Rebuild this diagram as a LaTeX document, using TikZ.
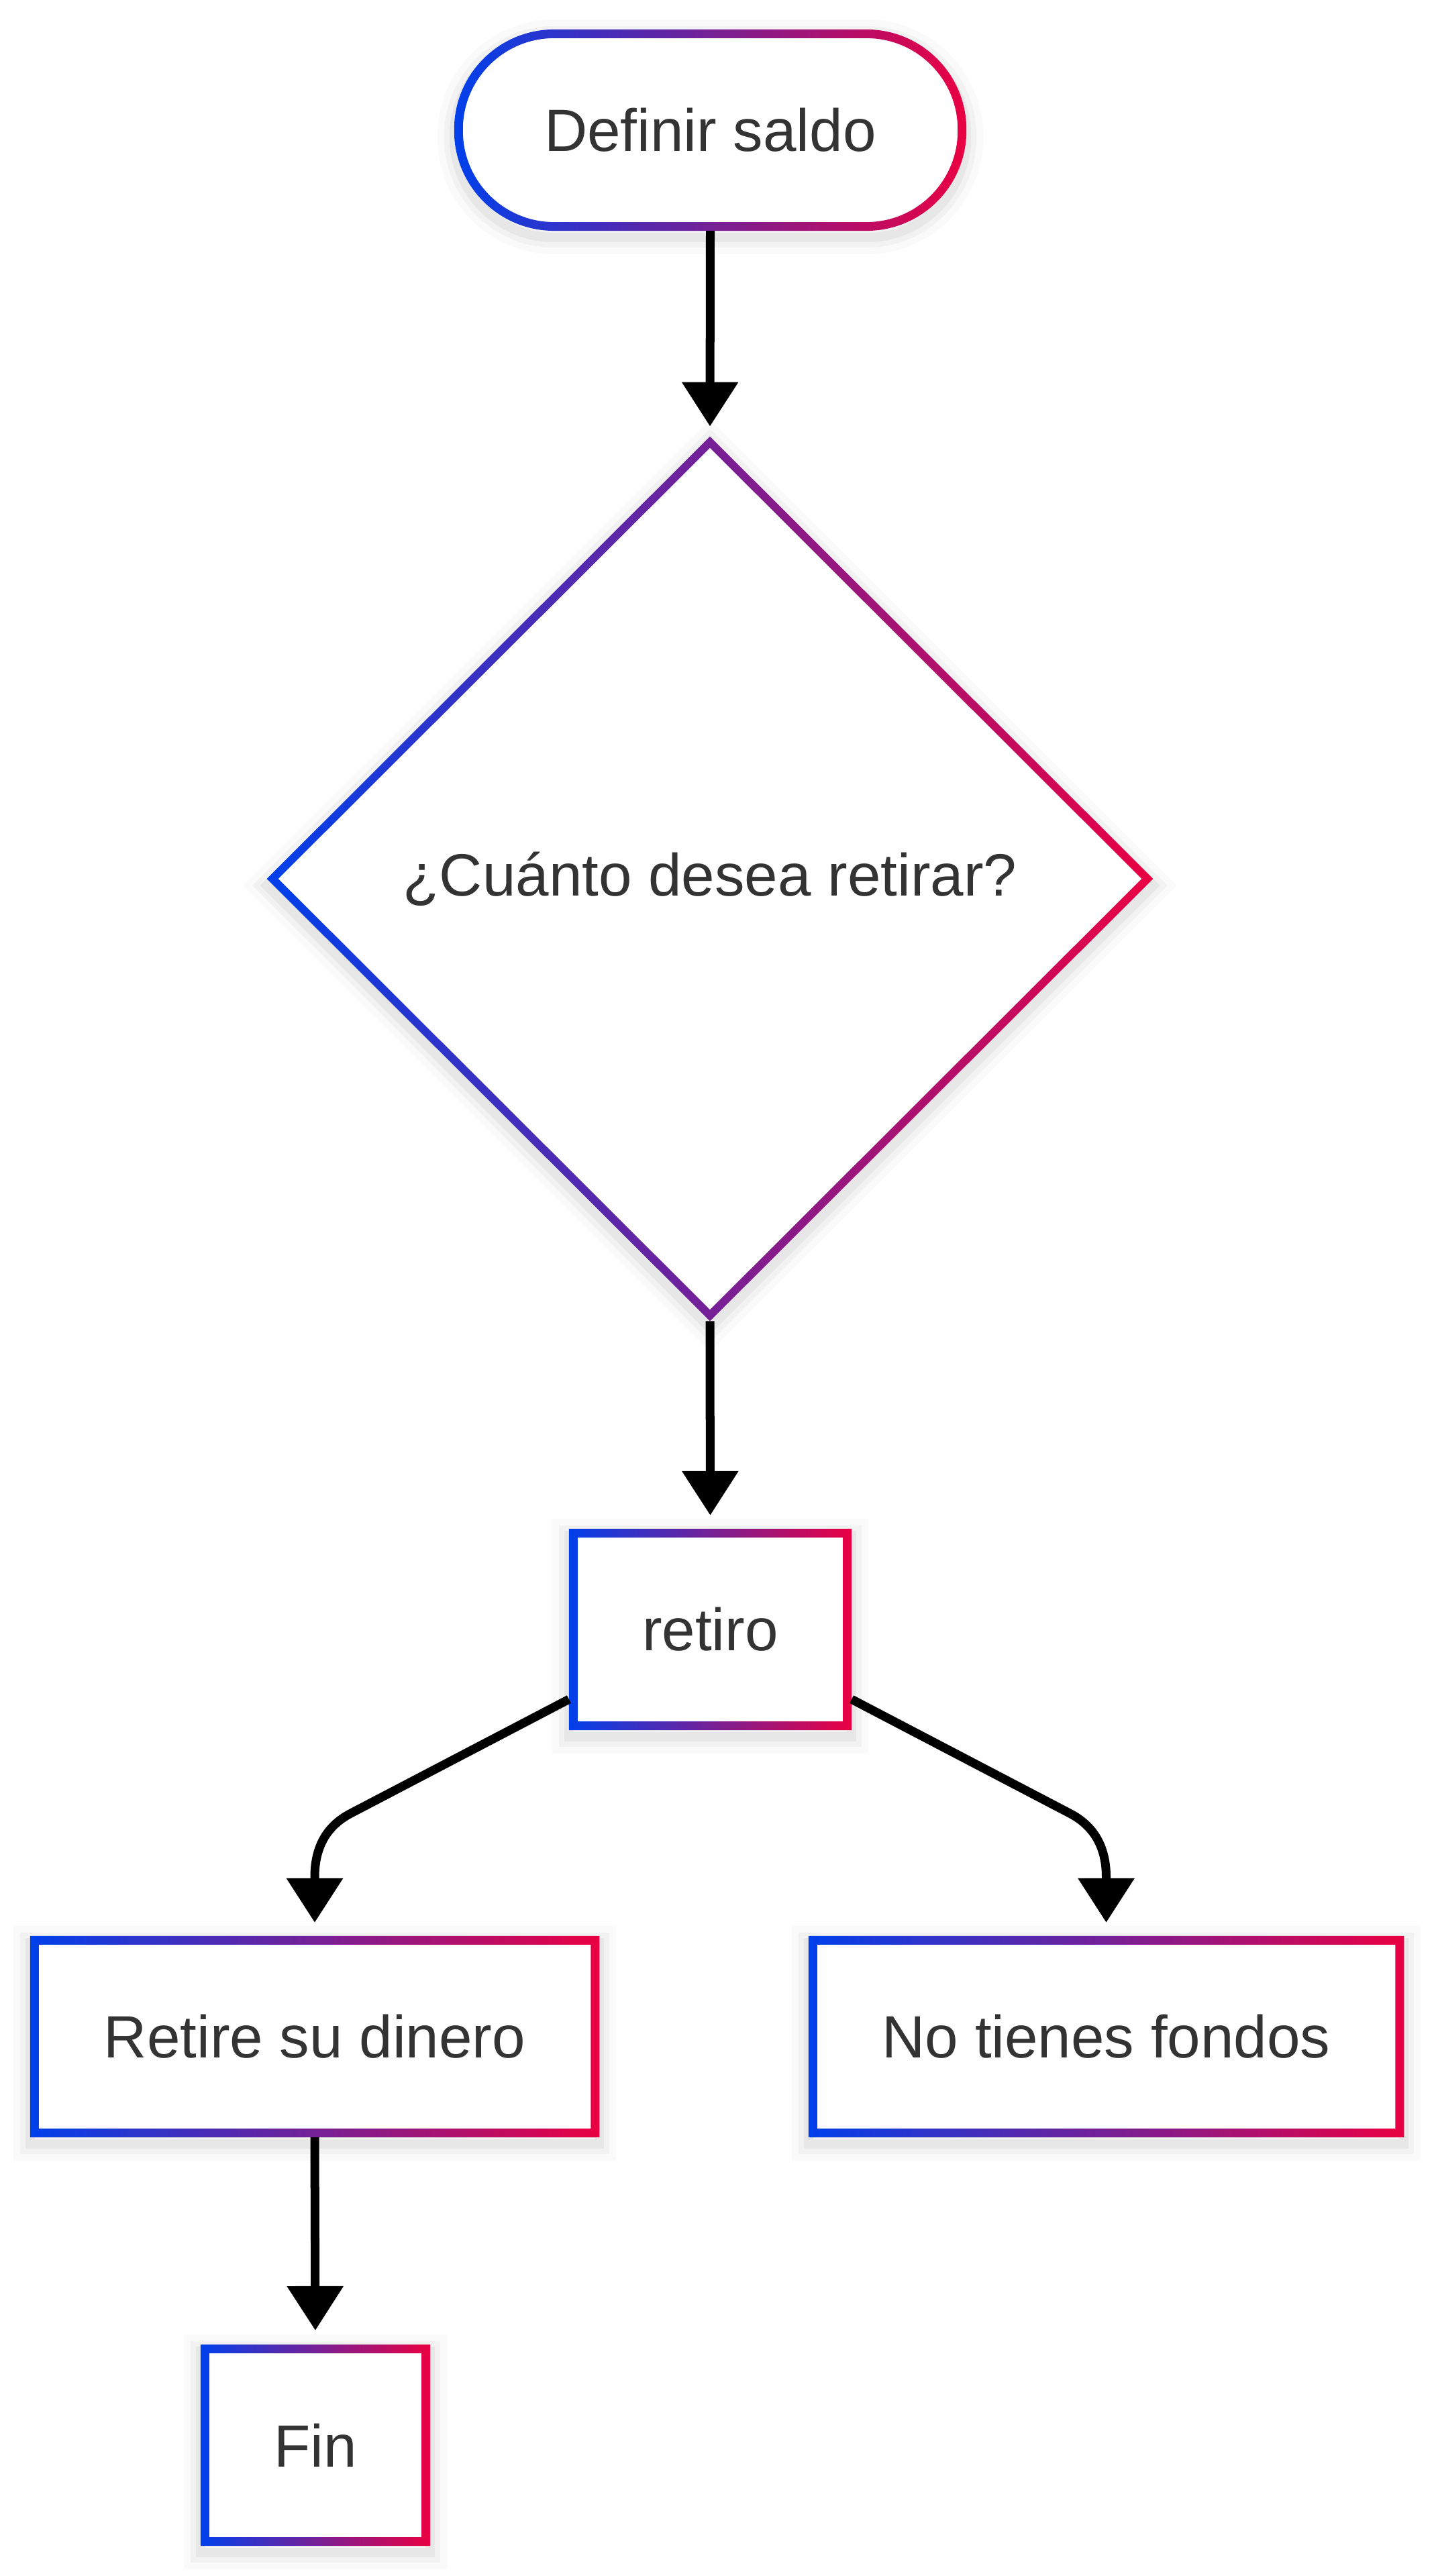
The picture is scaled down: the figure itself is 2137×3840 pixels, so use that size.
\documentclass[tikz,border=0pt]{standalone}
\usepackage{fontspec}
\setmainfont{Liberation Sans}
\usetikzlibrary{arrows.meta,backgrounds}
\definecolor{gblue}{RGB}{0,64,235}
\definecolor{gred}{RGB}{234,0,66}
\definecolor{txtc}{RGB}{51,51,51}
\tikzset{
  box/.style={rectangle, inner sep=0pt, outer sep=0pt, text=txtc, font=\fontsize{25.3}{30}\selectfont},
  arr/.style={draw=black, line width=0.13cm, -{Triangle[length=0.66cm,width=0.81cm]}},
  ring/.style={left color=gblue, right color=gred, even odd rule},
  shadowline/.style={draw=black, line join=miter, transform canvas={yshift=-0.1cm}},
}
\newcommand{\rectdeco}[1]{%
  \begin{scope}[on background layer]
    \draw[shadowline, opacity=0.02, line width=0.5cm] (#1.south west) rectangle (#1.north east);
    \draw[shadowline, opacity=0.03, line width=0.3cm] (#1.south west) rectangle (#1.north east);
    \draw[shadowline, opacity=0.045, line width=0.14cm] (#1.south west) rectangle (#1.north east);
    \fill[white] (#1.south west) rectangle (#1.north east);
  \end{scope}
  \shade[ring] (#1.south west) rectangle (#1.north east)
    ([shift={(13,-13)}]#1.south west) rectangle ([shift={(-13,13)}]#1.north east);
}
\begin{document}
\begin{tikzpicture}[x=0.01cm, y=-0.01cm]
\useasboundingbox (0,0) rectangle (2137,3840);
\begin{scope}[on background layer]
  \fill[white] (0,0) rectangle (2137,3840);
\end{scope}

% nodes
\node[box, minimum width=7.63cm, minimum height=3cm] (start) at (1058.5,194) {Definir saldo};
\node[box, minimum width=13.2cm, minimum height=13.18cm] (dia) at (1058,1310) {¿Cuánto desea retirar?};
\node[box, minimum width=4.21cm, minimum height=3cm] (retiro) at (1058.5,2429) {retiro};
\node[box, minimum width=8.48cm, minimum height=3cm] (retire) at (469,3036) {Retire su dinero};
\node[box, minimum width=8.87cm, minimum height=3cm] (nofondos) at (1648.5,3036) {No tienes fondos};
\node[box, minimum width=3.42cm, minimum height=3cm] (fin) at (470,3645) {Fin};

% stadium decoration
\begin{scope}[on background layer]
  \draw[shadowline, opacity=0.02, line width=0.5cm, rounded corners=1.49cm] (start.south west) rectangle (start.north east);
  \draw[shadowline, opacity=0.03, line width=0.3cm, rounded corners=1.49cm] (start.south west) rectangle (start.north east);
  \draw[shadowline, opacity=0.045, line width=0.14cm, rounded corners=1.49cm] (start.south west) rectangle (start.north east);
  \fill[white, rounded corners=1.49cm] (start.south west) rectangle (start.north east);
\end{scope}
\shade[ring] [rounded corners=1.49cm] (start.south west) rectangle (start.north east)
  [rounded corners=1.36cm] ([shift={(13,-13)}]start.south west) rectangle ([shift={(-13,13)}]start.north east);

% diamond decoration
\begin{scope}[on background layer]
  \draw[shadowline, opacity=0.02, line width=0.5cm] (dia.north) -- (dia.east) -- (dia.south) -- (dia.west) -- cycle;
  \draw[shadowline, opacity=0.03, line width=0.3cm] (dia.north) -- (dia.east) -- (dia.south) -- (dia.west) -- cycle;
  \draw[shadowline, opacity=0.045, line width=0.14cm] (dia.north) -- (dia.east) -- (dia.south) -- (dia.west) -- cycle;
  \fill[white] (dia.north) -- (dia.east) -- (dia.south) -- (dia.west) -- cycle;
\end{scope}
\shade[ring] (dia.north) -- (dia.east) -- (dia.south) -- (dia.west) -- cycle
  ([yshift=-0.17cm]dia.north) -- ([xshift=-0.17cm]dia.east) -- ([yshift=0.17cm]dia.south) -- ([xshift=0.17cm]dia.west) -- cycle;

\rectdeco{retiro}
\rectdeco{retire}
\rectdeco{nofondos}
\rectdeco{fin}

% connectors
\draw[arr, shorten >=0.15cm] (start.south) -- (dia.north);
\draw[arr, shorten >=0.2cm] (dia.south) -- (retiro.north);
\draw[arr, shorten >=0.2cm] ([yshift=0.46cm]retiro.south west) -- (523,2703)
  .. controls (488,2721) and (469,2752) .. (469,2798) -- (retire.north);
\draw[arr, shorten >=0.2cm] ([yshift=0.46cm]retiro.south east) -- (1594,2703)
  .. controls (1629,2721) and (1648.5,2752) .. (1648.5,2798) -- (nofondos.north);
\draw[arr, shorten >=0.21cm] (retire.south) -- (fin.north);
\end{tikzpicture}
\end{document}
